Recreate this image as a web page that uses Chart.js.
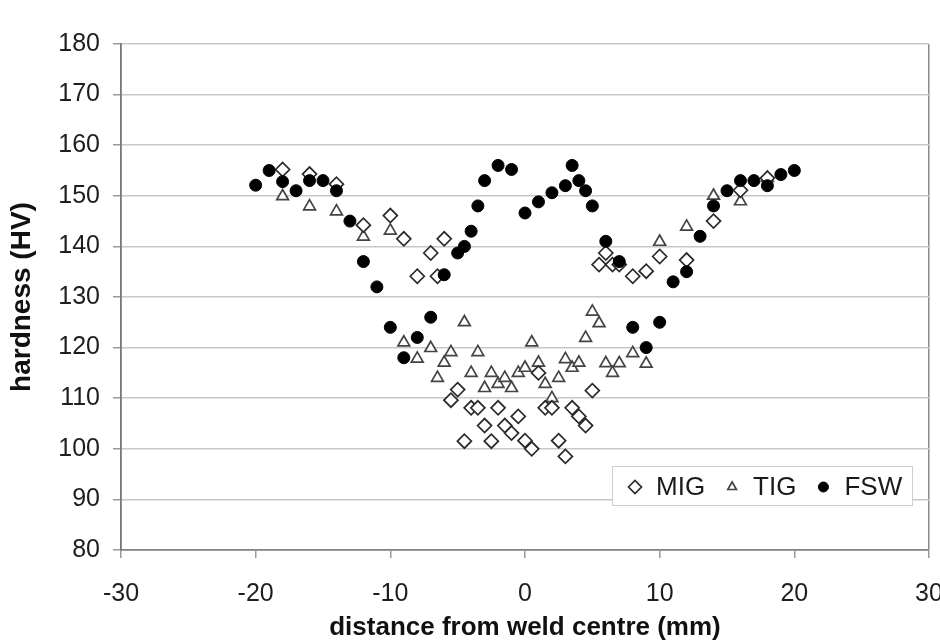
<!DOCTYPE html>
<html>
<head>
<meta charset="utf-8">
<title>Hardness profile across the weld</title>
<script src="https://cdn.jsdelivr.net/npm/chart.js@4.4.1/dist/chart.umd.min.js"></script>
<style>
    html, body { margin: 0; padding: 0; background: #fff; }
    #wrap { width: 940px; height: 641px; }
</style>
</head>
<body>
<div id="wrap"><canvas id="hardnessChart" width="940" height="641"></canvas></div>
<script>
// Hardness readings (HV) against distance from the weld centre (mm)
const migX = [-18, -16, -14, -12, -10, -9, -8, -7, -6.5, -6, -5.5, -5, -4.5, -4, -3.5, -3, -2.5, -2, -1.5, -1, -0.5, 0, 0.5, 1, 1.5, 2, 2.5, 3, 3.5, 4, 4.5, 5, 5.5, 6, 6.5, 7, 8, 9, 10, 12, 14, 16, 18];
const migY = [155.2, 154.3, 152.3, 144.2, 146.1, 141.5, 134.1, 138.7, 134.1, 141.5, 109.6, 111.7, 101.5, 108.1, 108.1, 104.6, 101.5, 108.1, 104.6, 103.1, 106.4, 101.6, 100, 115, 108.1, 108.1, 101.6, 98.5, 108.1, 106.4, 104.6, 111.5, 136.4, 138.7, 136.4, 136.4, 134.1, 135.1, 138, 137.3, 145, 151.1, 153.5];

const tigX = [-18, -16, -14, -12, -10, -9, -8, -7, -6.5, -6, -5.5, -4.5, -4, -3.5, -3, -2.5, -2, -1.5, -1, -0.5, 0, 0.5, 1, 1.5, 2, 2.5, 3, 3.5, 4, 4.5, 5, 5.5, 6, 6.5, 7, 8, 9, 10, 12, 14, 16, 18];
const tigY = [149.9, 147.9, 146.9, 141.9, 143.1, 121, 117.8, 119.9, 114, 117, 119.1, 125, 115, 119.1, 112, 115, 112.8, 114, 112, 115, 116, 121, 117, 112.8, 110, 114, 117.7, 116, 117, 121.9, 127.1, 124.8, 116.9, 115, 116.9, 118.9, 116.8, 140.9, 143.9, 150, 148.9, 153.5];

const fswX = [-20, -19, -18, -17, -16, -15, -14, -13, -12, -11, -10, -9, -8, -7, -6, -5, -4.5, -4, -3.5, -3, -2, -1, 0, 1, 2, 3, 3.5, 4, 4.5, 5, 6, 7, 8, 9, 10, 11, 12, 13, 14, 15, 16, 17, 18, 19, 20];
const fswY = [152.1, 155, 152.8, 151, 153, 153, 151, 145, 137, 132, 124, 118, 122, 126, 134.4, 138.7, 140, 143, 148, 153, 156, 155.2, 146.6, 148.8, 150.6, 152, 156, 153, 151, 148, 141, 137, 124, 120, 125, 133, 135, 142, 148, 151, 153, 153, 152, 154.2, 155];

// Axis ranges and tick steps
const xRange = [-30, 30];
const yRange = [80, 180];
const xStep = 10;
const yStep = 10;

const seriesNames = ['MIG', 'TIG', 'FSW'];

function toPoints(xs, ys) {
    return xs.map((x, i) => ({ x: x, y: ys[i] }));
}

Chart.defaults.font.family = '"Liberation Sans", Arial, sans-serif';

// Legend drawn inside the plot, bottom right, framed like the original
const insetLegend = {
    id: 'insetLegend',
    afterDraw(chart) {
        const ctx = chart.ctx;
        const area = chart.chartArea;
        const box = { x: area.right - 317, y: area.bottom - 84, w: 300, h: 39 };
        const midY = box.y + 21;

        ctx.save();
        ctx.fillStyle = '#fff';
        ctx.strokeStyle = '#cfcfcf';
        ctx.lineWidth = 1;
        ctx.fillRect(box.x, box.y, box.w, box.h);
        ctx.strokeRect(box.x + 0.5, box.y + 0.5, box.w, box.h);

        ctx.font = '26px "Liberation Sans", Arial, sans-serif';
        ctx.textBaseline = 'middle';
        ctx.textAlign = 'left';

        let symX = box.x + 23;
        chart.data.datasets.forEach(ds => {
            ctx.fillStyle = ds.backgroundColor;
            ctx.strokeStyle = ds.borderColor;
            ctx.lineWidth = ds.borderWidth;
            Chart.helpers.drawPoint(ctx, {
                pointStyle: ds.pointStyle,
                radius: ds.legendRadius,
                rotation: 0,
                borderWidth: ds.borderWidth
            }, symX, midY);

            const textX = symX + 21;
            ctx.fillStyle = '#1a1a1a';
            ctx.fillText(ds.label, textX, midY + 1);
            symX = textX + ctx.measureText(ds.label).width + 27;
        });
        ctx.restore();
    }
};

const ctx = document.getElementById('hardnessChart').getContext('2d');

new Chart(ctx, {
    type: 'scatter',
    data: {
        datasets: [
            {
                label: seriesNames[0],
                data: toPoints(migX, migY),
                pointStyle: 'rectRot',
                pointRadius: 7,
                legendRadius: 6.5,
                backgroundColor: '#fff',
                borderColor: '#2a2a2a',
                borderWidth: 1.7,
                order: 1
            },
            {
                label: seriesNames[1],
                data: toPoints(tigX, tigY),
                pointStyle: 'triangle',
                pointRadius: 6.8,
                legendRadius: 5,
                backgroundColor: '#fff',
                borderColor: '#444',
                borderWidth: 1.7,
                order: 2
            },
            {
                label: seriesNames[2],
                data: toPoints(fswX, fswY),
                pointStyle: 'circle',
                pointRadius: 6,
                legendRadius: 5,
                backgroundColor: '#000',
                borderColor: '#000',
                borderWidth: 1,
                order: 0
            }
        ]
    },
    options: {
        responsive: false,
        animation: false,
        layout: {
            padding: { top: 44, right: 11, bottom: 0, left: 0 }
        },
        plugins: {
            legend: { display: false },
            tooltip: { enabled: false }
        },
        scales: {
            x: {
                type: 'linear',
                min: xRange[0],
                max: xRange[1],
                ticks: {
                    stepSize: xStep,
                    color: '#1e1e1e',
                    font: { size: 25 },
                    padding: 21
                },
                grid: {
                    // only the right-hand frame line at x = 30 is drawn
                    color: (c) => (c.tick && c.tick.value === xRange[1]) ? '#8a8a8a' : 'rgba(0,0,0,0)',
                    lineWidth: 1.5,
                    tickColor: '#9a9a9a',
                    tickLength: 8
                },
                border: { color: '#858585', width: 1.8 },
                title: {
                    display: true,
                    text: 'distance from weld centre (mm)',
                    color: '#111',
                    font: { size: 26, weight: 'bold', lineHeight: 1 },
                    padding: { top: 0, bottom: 0 }
                },
                afterFit(scale) {
                    scale.height = 91;
                    scale.paddingRight = 0;
                }
            },
            y: {
                min: yRange[0],
                max: yRange[1],
                ticks: {
                    stepSize: yStep,
                    color: '#1e1e1e',
                    font: { size: 25 },
                    padding: 13
                },
                grid: {
                    color: '#c8c8c8',
                    lineWidth: 1.5,
                    tickColor: '#9a9a9a',
                    tickLength: 8
                },
                border: { color: '#777', width: 1.8 },
                title: {
                    display: true,
                    text: 'hardness (HV)',
                    color: '#111',
                    font: { size: 28, weight: 'bold' },
                    padding: { top: 5, bottom: 0 }
                },
                afterFit(scale) {
                    scale.width = 121;
                }
            }
        }
    },
    plugins: [insetLegend]
});
</script>
</body>
</html>
